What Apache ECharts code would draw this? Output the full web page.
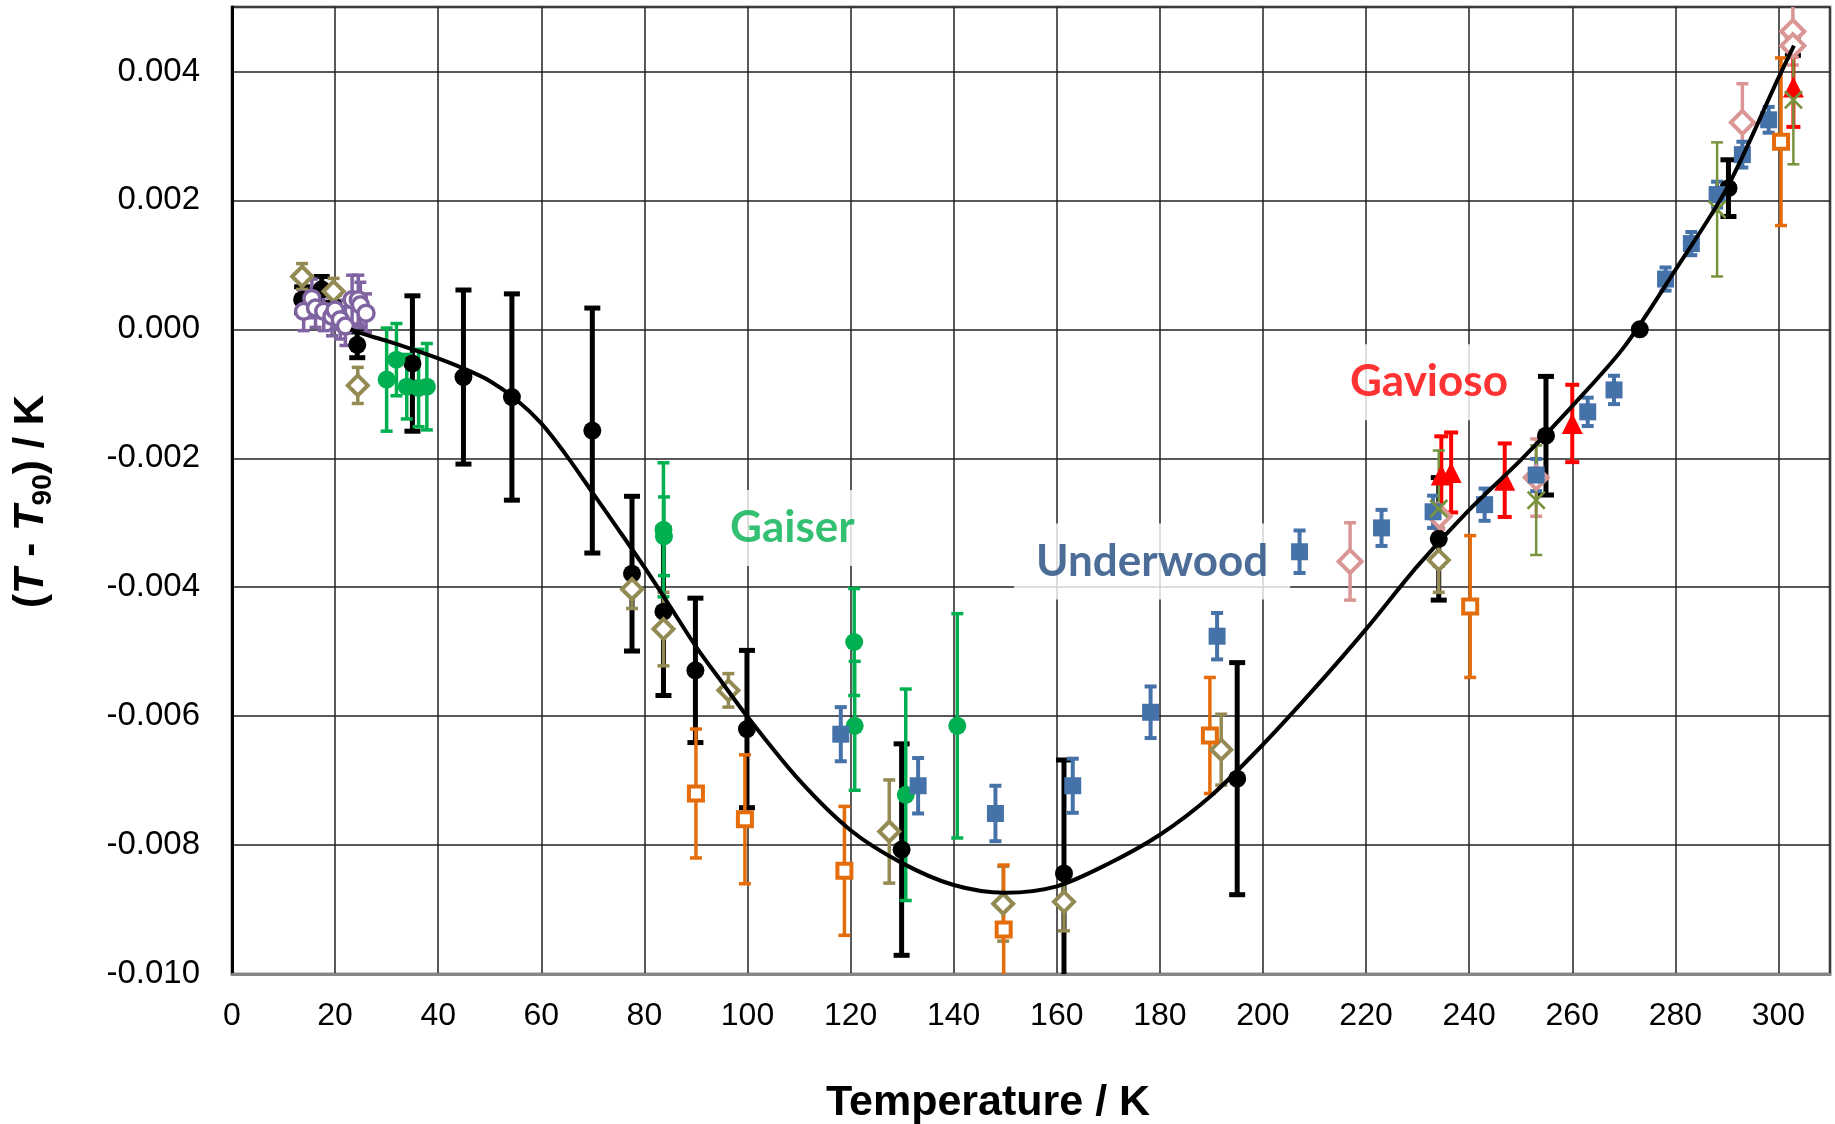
<!DOCTYPE html>
<html>
<head>
<meta charset="utf-8">
<title>T - T90</title>
<script src="https://cdn.jsdelivr.net/npm/echarts@6/dist/echarts.min.js"></script>
<style>
html, body { margin: 0; padding: 0; background: #fff; }
#chart { width: 1835px; height: 1124px; }
</style>
</head>
<body>
<div id="chart"></div>
<script>
// temperatures in K, deviations and uncertainties in mK (converted to K below)
var blackT   = [13.6, 17.4, 19.8, 24.3, 35.0, 44.9, 54.3, 69.9, 77.6, 83.7, 89.9, 99.9, 129.9, 161.4, 195.0, 234.1, 254.9, 273.1, 290.3, 302.8];
var blackDev = [0.46, 0.62, 0.35, -0.24, -0.53, -0.74, -1.05, -1.57, -3.79, -4.38, -5.29, -6.20, -8.07, -8.44, -6.97, -3.25, -1.65, 0.0, 2.19, 4.40];
var blackErr = [0.2, 0.2, 0.2, 0.2, 1.05, 1.35, 1.6, 1.9, 1.2, 1.3, 1.12, 1.22, 1.64, 1.76, 1.8, 0.95, 0.92, 0, 0.44, 0.15];

var purpleT   = [13.9, 15.5, 16.2, 17.8, 19.4, 20.0, 21.0, 22.0, 23.3, 24.5, 24.9, 26.0];
var purpleDev = [0.28, 0.48, 0.33, 0.28, 0.20, 0.30, 0.15, 0.05, 0.46, 0.46, 0.38, 0.25];
var purpleErr = [0.3, 0.3, 0.3, 0.3, 0.3, 0.3, 0.3, 0.3, 0.38, 0.38, 0.35, 0.3];

var oliveT   = [13.6, 19.7, 24.4, 77.6, 83.7, 96.3, 127.5, 149.6, 161.4, 191.9, 234.1];
var oliveDev = [0.82, 0.59, -0.87, -4.03, -4.65, -5.60, -7.79, -8.91, -8.88, -6.52, -3.58];
var oliveErr = [0.2, 0.2, 0.28, 0.3, 0.57, 0.26, 0.8, 0.58, 0.45, 0.55, 0.5];

var orangeT   = [90.0, 99.5, 118.8, 149.7, 189.7, 240.2, 300.5];
var orangeDev = [-7.20, -7.60, -8.40, -9.31, -6.30, -4.30, 2.91];
var orangeErr = [1.0, 1.0, 1.0, 1.0, 0.9, 1.1, 1.3];

var gaiserT   = [30.0, 31.9, 33.9, 36.2, 37.8, 83.7, 83.8, 120.7, 120.8, 130.7, 140.7];
var gaiserDev = [-0.78, -0.47, -0.89, -0.91, -0.89, -3.11, -3.21, -4.85, -6.15, -7.22, -6.15];
var gaiserErr = [0.8, 0.56, 0.5, 0.6, 0.67, 1.04, 0.61, 0.83, 1.0, 1.64, 1.74];

var underwoodT   = [118.1, 133.1, 148.1, 163.1, 178.2, 191.1, 207.1, 223.0, 233.0, 243.0, 253.0, 263.0, 268.1, 278.1, 283.1, 288.1, 293.0, 298.1];
var underwoodDev = [-6.28, -7.08, -7.51, -7.08, -5.94, -4.76, -3.45, -3.08, -2.83, -2.72, -2.26, -1.28, -0.94, 0.78, 1.33, 2.09, 2.71, 3.25];
var underwoodErr = [0.42, 0.43, 0.43, 0.42, 0.4, 0.36, 0.33, 0.28, 0.25, 0.25, 0.25, 0.22, 0.22, 0.18, 0.18, 0.2, 0.2, 0.2];

var pinkT   = [216.9, 234.2, 253.0, 293.0, 302.8, 302.8];
var pinkDev = [-3.60, -2.90, -2.30, 3.21, 4.62, 4.40];
var pinkErr = [0.6, 0.2, 0.6, 0.6, 0.4, 0.3];

var gaviosoT   = [234.6, 236.5, 246.9, 260.0, 302.9];
var gaviosoDev = [-2.26, -2.22, -2.34, -1.46, 3.76];
var gaviosoErr = [0.6, 0.62, 0.57, 0.6, 0.62];

var crossT   = [234.1, 253.0, 288.1, 302.9];
var crossDev = [-2.78, -2.65, 1.86, 3.56];
var crossErr = [0.9, 0.85, 1.04, 1.0];

var curveT   = [23, 25, 30, 35, 40, 45, 50, 55, 60, 65, 70, 75, 80, 85, 90, 95, 100, 110, 120, 130, 140, 150, 160, 170, 180, 190, 200, 210, 220, 230, 240, 250, 260, 270, 280, 290, 300, 303];
var curveDev = [0.0, -0.06, -0.18, -0.31, -0.45, -0.61, -0.80, -1.08, -1.46, -1.97, -2.54, -3.11, -3.69, -4.30, -4.92, -5.47, -6.01, -6.99, -7.77, -8.28, -8.62, -8.74, -8.64, -8.29, -7.84, -7.23, -6.44, -5.57, -4.65, -3.67, -2.80, -2.03, -1.19, -0.28, 0.92, 2.19, 3.90, 4.40];

var noteNames = ['Gaiser', 'Underwood', 'Gavioso'];
var noteT     = [108.7, 178.5, 232.2];
var noteDev   = [-3.08, -3.60, -0.82];

var yMin = -0.010, yMax = 0.005;

function pts(t, dev, err) {
    return t.map(function(x, i) {
        return [x, dev[i] / 1000, err ? err[i] / 1000 : 0];
    });
}

function errBars(data, color, width, cap) {
    return {
        type: 'custom',
        data: data,
        silent: true,
        encode: { x: 0, y: 1 },
        renderItem: function(params, api) {
            var x = api.value(0), y = api.value(1), e = api.value(2);
            if (!e) return null;
            var hi = Math.min(y + e, yMax), lo = Math.max(y - e, yMin);
            var p1 = api.coord([x, hi]), p2 = api.coord([x, lo]);
            var st = { stroke: color, lineWidth: width };
            var kids = [{ type: 'line', shape: { x1: p1[0], y1: p1[1], x2: p2[0], y2: p2[1] }, style: st }];
            if (y + e <= yMax) kids.push({ type: 'line', shape: { x1: p1[0] - cap, y1: p1[1], x2: p1[0] + cap, y2: p1[1] }, style: st });
            if (y - e >= yMin) kids.push({ type: 'line', shape: { x1: p2[0] - cap, y1: p2[1], x2: p2[0] + cap, y2: p2[1] }, style: st });
            return { type: 'group', children: kids };
        }
    };
}

function marks(data, symbol, size, color, fill, border) {
    return {
        type: 'scatter',
        data: data,
        silent: true,
        symbol: symbol,
        symbolSize: size,
        itemStyle: { color: fill, borderColor: color, borderWidth: border, opacity: 1 }
    };
}

var crossPath = 'path://M0,1 L1,0 L5,4 L9,0 L10,1 L6,5 L10,9 L9,10 L5,6 L1,10 L0,9 L4,5 Z';

var black = pts(blackT, blackDev, blackErr);
var purple = pts(purpleT, purpleDev, purpleErr);
var olive = pts(oliveT, oliveDev, oliveErr);
var orange = pts(orangeT, orangeDev, orangeErr);
var gaiser = pts(gaiserT, gaiserDev, gaiserErr);
var underwood = pts(underwoodT, underwoodDev, underwoodErr);
var pink = pts(pinkT, pinkDev, pinkErr);
var gavioso = pts(gaviosoT, gaviosoDev, gaviosoErr);
var cross = pts(crossT, crossDev, crossErr);
var curve = pts(curveT, curveDev);

var noteColors = ['#00B050', '#1F497D', '#FF0000'];
var notes = noteNames.map(function(n, i) {
    return {
        name: n,
        value: [noteT[i], noteDev[i] / 1000],
        label: { color: noteColors[i] }
    };
});

var series = [
    {
        type: 'scatter',
        z: 1,
        silent: true,
        symbolSize: 0,
        data: notes,
        label: {
            show: true,
            position: 'inside',
            formatter: '{b}',
            fontFamily: 'Lato',
            fontWeight: 'bold',
            fontSize: 44,
            backgroundColor: '#fff',
            padding: [16, 22]
        }
    },
    errBars(black, '#000', 5, 8),
    marks(black, 'circle', 18, '#000', '#000', 0),
    {
        type: 'line',
        data: curve,
        smooth: 0.3,
        showSymbol: false,
        silent: true,
        lineStyle: { color: '#000', width: 4 }
    },
    errBars(olive, '#948A54', 3.5, 6),
    marks(olive, 'diamond', 20, '#948A54', '#fff', 4),
    errBars(orange, '#E46C0A', 3.5, 6),
    marks(orange, 'rect', 14, '#E46C0A', '#fff', 4),
    errBars(gaiser, '#00B050', 3.5, 6),
    marks(gaiser, 'circle', 18, '#00B050', '#00B050', 0),
    errBars(pink, '#D99694', 3.5, 6),
    marks(pink, 'diamond', 23, '#D99694', '#fff', 4),
    errBars(underwood, '#4672AA', 4, 6),
    marks(underwood, 'rect', 17, '#4672AA', '#4672AA', 0),
    errBars(gavioso, '#FF0000', 4, 7),
    marks(gavioso, 'triangle', 21, '#FF0000', '#FF0000', 0),
    errBars(cross, '#77933C', 2.5, 6),
    marks(cross, crossPath, 19, '#77933C', '#77933C', 0),
    errBars(purple, '#8064A2', 3.5, 6),
    marks(purple, 'circle', 16, '#8064A2', '#fff', 3.5)
];

var chart = echarts.init(document.getElementById('chart'));
chart.setOption({
    animation: false,
    backgroundColor: '#fff',
    grid: {
        left: 232, right: 5, top: 7, bottom: 150,
        outerBoundsMode: 'none',
        containLabel: false,
        show: true, borderColor: '#8c8c8c', borderWidth: 3
    },
    xAxis: {
        type: 'value',
        min: 0, max: 310, interval: 20,
        name: 'Temperature / K',
        nameLocation: 'middle',
        nameGap: 108,
        nameTextStyle: { fontFamily: 'Liberation Sans', fontWeight: 'bold', fontSize: 43, color: '#000', padding: [0, 86, 0, 0] },
        axisLine: { show: true, onZero: false, lineStyle: { color: '#868686', width: 3 } },
        axisTick: { show: false },
        splitLine: { show: true, lineStyle: { color: '#222', width: 1.5 } },
        axisLabel: { fontFamily: 'Liberation Sans', fontSize: 32, color: '#000', margin: 26, showMaxLabel: false }
    },
    yAxis: {
        type: 'value',
        min: yMin, max: yMax, interval: 0.002,
        name: '{p|(}{i|T}{p| - }{i|T}{s|90}{p|) / K}',
        nameLocation: 'middle',
        nameGap: 175,
        nameTextStyle: {
            padding: [0, 22, 0, 0],
            rich: {
                p: { fontFamily: 'Liberation Sans', fontWeight: 'bold', fontSize: 42, color: '#000' },
                i: { fontFamily: 'Liberation Sans', fontWeight: 'bold', fontStyle: 'italic', fontSize: 42, color: '#000' },
                s: { fontFamily: 'Liberation Sans', fontWeight: 'bold', fontSize: 28, color: '#000', padding: [24, 0, 0, 0] }
            }
        },
        axisLine: { show: true, onZero: false, lineStyle: { color: '#000', width: 3 } },
        axisTick: { show: false },
        splitLine: { show: true, lineStyle: { color: '#222', width: 1.5 } },
        axisLabel: {
            fontFamily: 'Liberation Sans', fontSize: 33, color: '#000', margin: 32, showMaxLabel: false,
            formatter: function(v) {
                if (Math.abs(v) < 1e-9) return '0.000';
                return v.toFixed(3);
            }
        }
    },
    series: series
});
</script>
</body>
</html>
